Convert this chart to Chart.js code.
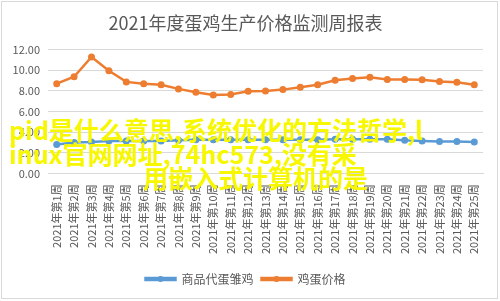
<!DOCTYPE html>
<html>
<head>
<meta charset="utf-8">
<script src="https://cdn.jsdelivr.net/npm/chart.js@4.4.1/dist/chart.umd.min.js"></script>
<style>
  body { margin: 0; background: #fff; }
  #wrap { position: relative; width: 500px; height: 301px; overflow: hidden; }
  .mark {
    position: absolute;
    font-family: "Noto Sans CJK SC", sans-serif;
    font-weight: bold;
    font-size: 25px;
    line-height: 25px;
    color: #f7f700;
    white-space: nowrap;
  }
</style>
</head>
<body>
<div id="wrap">
  <canvas id="eggChart" width="500" height="301"></canvas>
  <div class="mark" style="left:9px; top:117px;">pid是什么意思,系统优化的方法哲学,l</div>
  <div class="mark" style="left:9px; top:141px;">inux官网网址,74hc573,没有采</div>
  <div class="mark" style="left:143px; top:165px;">用嵌入式计算机的是</div>
</div>
<script>
// weeks 1..25
const weeks = ['2021年第1周', '2021年第2周', '2021年第3周', '2021年第4周', '2021年第5周',
  '2021年第6周', '2021年第7周', '2021年第8周', '2021年第9周', '2021年第10周',
  '2021年第11周', '2021年第12周', '2021年第13周', '2021年第14周', '2021年第15周',
  '2021年第16周', '2021年第17周', '2021年第18周', '2021年第19周', '2021年第20周',
  '2021年第21周', '2021年第22周', '2021年第23周', '2021年第24周', '2021年第25周'];

const chickPrice = [2.8, 3.0, 3.05, 3.15, 3.15, 3.15, 3.15, 3.2, 3.25, 3.25,
  3.25, 3.25, 3.25, 3.25, 3.25, 3.25, 3.3, 3.3, 3.3, 3.3,
  3.2, 3.15, 3.1, 3.1, 3.05];

const eggPrice = [8.70, 9.37, 11.29, 9.94, 8.87, 8.70, 8.59, 8.19, 7.86, 7.61,
  7.65, 7.96, 7.99, 8.12, 8.36, 8.59, 9.03, 9.20, 9.33, 9.10,
  9.10, 9.07, 8.90, 8.83, 8.59];

const yTicks = [0, 2, 4, 6, 8, 10, 12];

const FONT = '"Microsoft YaHei", "Noto Sans CJK SC", sans-serif';
const GREY = '#595959';

// white background + thin frame
const frame = {
  id: 'frame',
  beforeDraw(chart) {
    const c = chart.ctx;
    c.save();
    c.fillStyle = '#fff';
    c.fillRect(0, 0, chart.width, chart.height);
    c.strokeStyle = '#d9d9d9';
    c.lineWidth = 1;
    c.strokeRect(1.5, 1.5, chart.width - 4, chart.height - 4);
    c.restore();
  }
};

// dot in the middle of each legend line
const legendDots = {
  id: 'legendDots',
  afterDraw(chart) {
    const lg = chart.legend;
    if (!lg || !lg.legendHitBoxes) return;
    const c = chart.ctx;
    lg.legendHitBoxes.forEach((box, i) => {
      const ds = chart.data.datasets[i];
      c.save();
      c.fillStyle = ds.borderColor;
      c.beginPath();
      c.arc(box.left + 15, box.top + box.height / 2, 3, 0, Math.PI * 2);
      c.fill();
      c.restore();
    });
  }
};

new Chart(document.getElementById('eggChart'), {
  type: 'line',
  data: {
    labels: weeks,
    datasets: [{
      label: '商品代蛋雏鸡',
      data: chickPrice,
      borderColor: '#5b9bd5',
      backgroundColor: '#5b9bd5',
      borderWidth: 2.5,
      pointRadius: 3.5,
      pointBackgroundColor: '#5b9bd5',
      pointBorderWidth: 0,
      tension: 0
    }, {
      label: '鸡蛋价格',
      data: eggPrice,
      borderColor: '#ed7d31',
      backgroundColor: '#ed7d31',
      borderWidth: 2.5,
      pointRadius: 3.5,
      pointBackgroundColor: '#ed7d31',
      pointBorderWidth: 0,
      tension: 0
    }]
  },
  options: {
    responsive: false,
    animation: false,
    layout: { padding: { left: 8, right: 17, top: 8, bottom: 6 } },
    plugins: {
      title: {
        display: true,
        text: '2021年度蛋鸡生产价格监测周报表',
        color: GREY,
        font: { family: FONT, size: 18, weight: 'normal' },
        padding: { top: 4, bottom: 16 }
      },
      legend: {
        position: 'bottom',
        labels: {
          color: GREY,
          font: { family: FONT, size: 12 },
          boxWidth: 30,
          boxHeight: 2,
          padding: 8
        }
      },
      tooltip: { enabled: false }
    },
    scales: {
      x: {
        offset: true,
        grid: { display: false },
        border: { color: '#d9d9d9' },
        afterFit(scale) { scale.height += 8; },
        ticks: {
          color: GREY,
          font: { family: FONT, size: 11 },
          maxRotation: 90,
          minRotation: 90,
          autoSkip: false,
          padding: 3
        }
      },
      y: {
        min: 0,
        max: 12,
        afterBuildTicks(scale) {
          scale.ticks = yTicks.map(v => ({ value: v }));
        },
        afterFit(scale) { scale.width = 40; },
        grid: { color: '#d9d9d9', drawTicks: false },
        border: { display: false },
        ticks: {
          color: GREY,
          font: { family: FONT, size: 11 },
          padding: 8,
          callback: v => v.toFixed(2)
        }
      }
    }
  },
  plugins: [frame, legendDots]
});
</script>
</body>
</html>
